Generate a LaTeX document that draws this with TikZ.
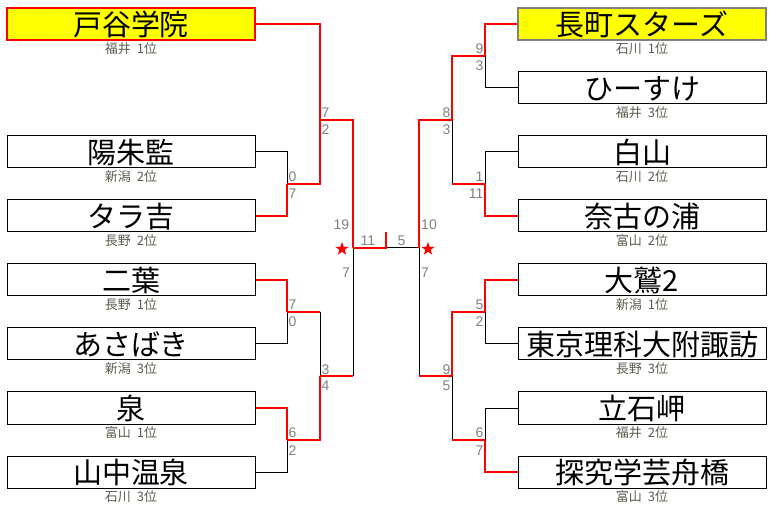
\documentclass[tikz,border=0pt]{standalone}
\usepackage{fontspec}
\newfontfamily\jp{Noto Sans CJK JP}
\newfontfamily\num{Liberation Sans}
\usetikzlibrary{shapes.geometric}
\definecolor{subc}{RGB}{88,94,78}
\definecolor{scorec}{RGB}{128,128,128}
\definecolor{winred}{RGB}{255,0,0}
\definecolor{champ}{RGB}{255,255,0}
\newcommand{\gapsp}{\hspace{0.45em}}
\begin{document}
\begin{tikzpicture}[x=1pt,y=-1pt,
  team/.style={draw=black,line width=1pt,minimum width=248pt,minimum height=32pt,inner sep=0pt,
    font=\jp\fontsize{29}{29}\selectfont,text height=25pt,text depth=2pt},
  champL/.style={team,fill=champ,draw=winred,line width=2pt},
  champR/.style={team,fill=champ,draw=scorec,line width=1.5pt},
  sub/.style={font=\jp\fontsize{13}{13}\selectfont,text=subc,inner sep=0pt},
  score/.style={font=\num\fontsize{14}{14}\selectfont,text=scorec,inner sep=0pt},
  win/.style={draw=winred,line width=2.6pt},
  lose/.style={draw=black,line width=1pt},
  starmark/.style={star,star points=5,star point ratio=2.5,fill=winred,draw=none,minimum size=14pt,inner sep=0pt}]
\useasboundingbox (0,0) rectangle (772,505);
% teams left
\node[champL] (L1) at (131,24) {戸谷学院};
\node[team] (L2) at (131,152) {陽朱監};
\node[team] (L3) at (131,216) {タラ吉};
\node[team] (L4) at (131,280) {二葉};
\node[team] (L5) at (131,344) {あさばき};
\node[team] (L6) at (131,408) {泉};
\node[team] (L7) at (131,472) {山中温泉};
\node[sub] (l1) at (131,49) {福井\gapsp 1位};
\node[sub] (l2) at (131,177) {新潟\gapsp 2位};
\node[sub] (l3) at (131,241) {長野\gapsp 2位};
\node[sub] (l4) at (131,305) {長野\gapsp 1位};
\node[sub] (l5) at (131,369) {新潟\gapsp 3位};
\node[sub] (l6) at (131,433) {富山\gapsp 1位};
\node[sub] (l7) at (131,497) {石川\gapsp 3位};
% teams right
\node[champR] (R1) at (642,24) {長町スターズ};
\node[team] (R2) at (642,88) {ひーすけ};
\node[team] (R3) at (642,152) {白山};
\node[team] (R4) at (642,216) {奈古の浦};
\node[team] (R5) at (642,280) {大鷲2};
\node[team] (R6) at (642,344) {東京理科大附諏訪};
\node[team] (R7) at (642,408) {立石岬};
\node[team] (R8) at (642,472) {探究学芸舟橋};
\node[sub] (r1) at (642,49) {石川\gapsp 1位};
\node[sub] (r2) at (642,113) {福井\gapsp 3位};
\node[sub] (r3) at (642,177) {石川\gapsp 2位};
\node[sub] (r4) at (642,241) {富山\gapsp 2位};
\node[sub] (r5) at (642,305) {新潟\gapsp 1位};
\node[sub] (r6) at (642,369) {長野\gapsp 3位};
\node[sub] (r7) at (642,433) {福井\gapsp 2位};
\node[sub] (r8) at (642,497) {富山\gapsp 3位};
% junctions
\coordinate (jL1) at (287,184);
\coordinate (jL2) at (320,120);
\coordinate (jL3) at (287,312);
\coordinate (jL4) at (287,440);
\coordinate (jL5) at (320,376);
\coordinate (jL6) at (353,248);
\coordinate (jR1) at (485,56);
\coordinate (jR2) at (485,184);
\coordinate (jR3) at (452,120);
\coordinate (jR4) at (485,312);
\coordinate (jR5) at (485,440);
\coordinate (jR6) at (452,376);
\coordinate (jR7) at (419,248);
\coordinate (fm) at (386,248);
\coordinate (ft) at (386,232);
% losing lines
\draw[lose] (L2.east) -| (jL1);
\draw[lose] (L5.east) -| (jL3);
\draw[lose] (L7.east) -| (jL4);
\draw[lose] (jL3 -| jL5) -- (jL5);
\draw[lose] (jL5 -| jL6) -- (jL6);
\draw[lose] (fm) -- (jR7);
\draw[lose] (R2.west) -| (jR1);
\draw[lose] (R3.west) -| (jR2);
\draw[lose] (jR2 -| jR3) -- (jR3);
\draw[lose] (R6.west) -| (jR4);
\draw[lose] (R7.west) -| (jR5);
\draw[lose] (jR5 -| jR6) -- (jR6);
\draw[lose] (jR6 -| jR7) -- (jR7);
% winning lines
\draw[win] (L1.east) -| (jL2);
\draw[win] (L3.east) -| (jL1);
\draw[win] (jL1) -| (jL2);
\draw[win] (L4.east) -| (jL3);
\draw[win] (jL3) -- (jL3 -| jL5);
\draw[win] (L6.east) -| (jL4);
\draw[win] (jL4) -| (jL5);
\draw[win] (jL5) -- (jL5 -| jL6);
\draw[win] (jL2) -| (jL6);
\draw[win] (jL6) -- (fm) -- (ft);
\draw[win] (R1.west) -| (jR1);
\draw[win] (jR1) -| (jR3);
\draw[win] (R4.west) -| (jR2);
\draw[win] (jR2) -- (jR2 -| jR3);
\draw[win] (jR3) -| (jR7);
\draw[win] (R5.west) -| (jR4);
\draw[win] (jR4) -| (jR6);
\draw[win] (R8.west) -| (jR5);
\draw[win] (jR5) -- (jR5 -| jR6);
\draw[win] (jR6) -- (jR6 -| jR7);
% scores left
\node[score,anchor=base west] (sa1) at (321.5,118) {7};
\node[score,anchor=base west] (sa2) at (321.5,135) {2};
\node[score,anchor=base west] (sb1) at (288.5,182) {0};
\node[score,anchor=base west] (sb2) at (288.5,199) {7};
\node[score,anchor=base west] (sc1) at (288.5,310) {7};
\node[score,anchor=base west] (sc2) at (288.5,327) {0};
\node[score,anchor=base west] (sd1) at (321.5,374) {3};
\node[score,anchor=base west] (sd2) at (321.5,391) {4};
\node[score,anchor=base west] (se1) at (288.5,438) {6};
\node[score,anchor=base west] (se2) at (288.5,455) {2};
% scores right
\node[score,anchor=base east] (ta1) at (483.5,54) {9};
\node[score,anchor=base east] (ta2) at (483.5,71) {3};
\node[score,anchor=base east] (tb1) at (450.5,118) {8};
\node[score,anchor=base east] (tb2) at (450.5,135) {3};
\node[score,anchor=base east] (tc1) at (483.5,182) {1};
\node[score,anchor=base east] (tc2) at (483.5,199) {11};
\node[score,anchor=base east] (td1) at (483.5,310) {5};
\node[score,anchor=base east] (td2) at (483.5,327) {2};
\node[score,anchor=base east] (te1) at (450.5,374) {9};
\node[score,anchor=base east] (te2) at (450.5,391) {5};
\node[score,anchor=base east] (tf1) at (483.5,438) {6};
\node[score,anchor=base east] (tf2) at (483.5,455) {7};
% final
\node[score,anchor=base] (fa) at (368,246) {11};
\node[score,anchor=base] (fb) at (401.5,246) {5};
\node[score,anchor=base] (fc) at (341.5,230) {19};
\node[score,anchor=base] (fd) at (346,278) {7};
\node[score,anchor=base] (fe) at (429,230) {10};
\node[score,anchor=base] (ff) at (425,278) {7};
\node[starmark] (st1) at (342,249) {};
\node[starmark] (st2) at (428,249) {};
\end{tikzpicture}
\end{document}
